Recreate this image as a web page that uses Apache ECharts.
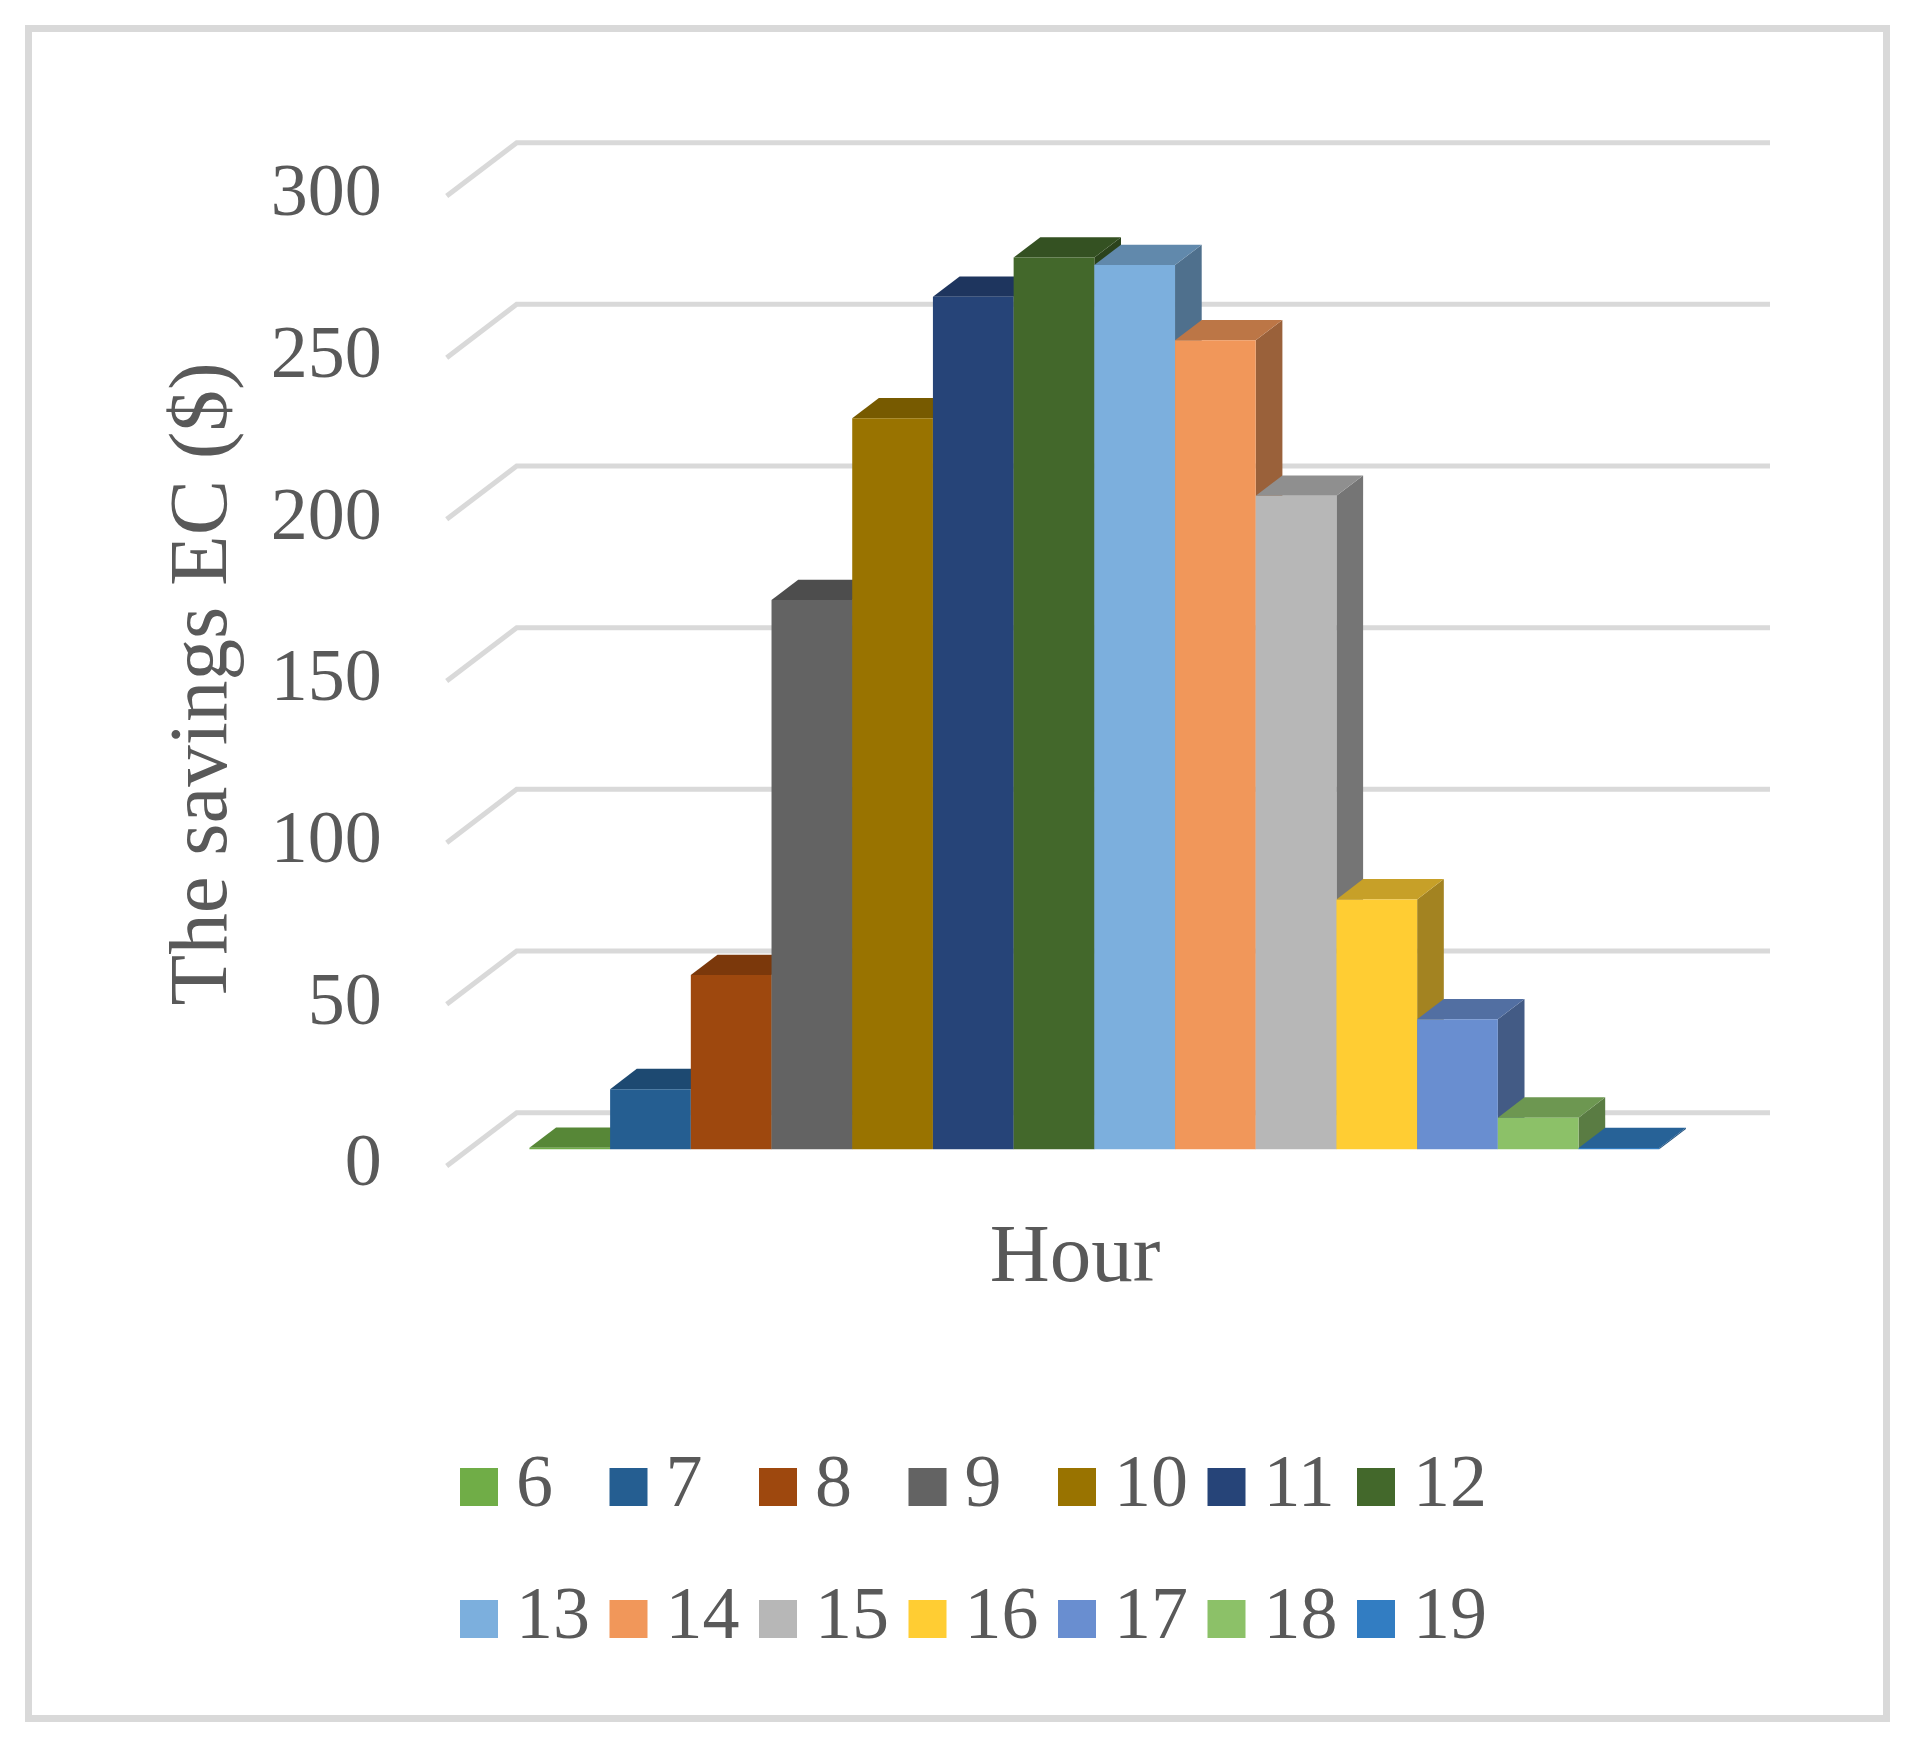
<!DOCTYPE html>
<html>
<head>
<meta charset="utf-8">
<title>The savings EC by hour</title>
<script src="https://cdn.jsdelivr.net/npm/echarts@6.0.0/dist/echarts.min.js"></script>
<style>
  html, body { margin: 0; padding: 0; background: #fff; }
  #chart { width: 1915px; height: 1746px; }
</style>
</head>
<body>
<div id="chart"></div>
<script>
// data
const hours = ['6', '7', '8', '9', '10', '11', '12', '13', '14', '15', '16', '17', '18', '19']
const savings = [0.5, 18.6, 53.9, 169.9, 226.1, 263.7, 275.8, 273.5, 250.2, 202.1, 77.3, 40.2, 9.8, 0.4]
const yTicks = [0, 50, 100, 150, 200, 250, 300]
const colors = ['#70AD47', '#255E91', '#9E480E', '#636363', '#997300', '#264478', '#43682B',
  '#7CAFDD', '#F1975A', '#B7B7B7', '#FFCD33', '#698ED0', '#8CC168', '#327DC2']

const FONT = '"Liberation Serif", "Times New Roman", serif'
const TEXT = '#595959'
const GRID_LINE = '#d9d9d9'
// oblique depth of the floor, in px, and where the bars sit inside it
const DEPTH = [70, -53.3]
const BAR_FRONT = 0.313
const BAR_BACK = 0.694
const SLOT_OFFSET = 0.7535

function shade(hex, k) {
  const n = parseInt(hex.slice(1), 16)
  const r = Math.round(((n >> 16) & 255) * k)
  const g = Math.round(((n >> 8) & 255) * k)
  const b = Math.round((n & 255) * k)
  return 'rgb(' + r + ',' + g + ',' + b + ')'
}

const chart = echarts.init(document.getElementById('chart'))

// back wall + left wall gridlines
function renderGridLine(params, api) {
  const p = api.coord([0, api.value(1)])
  const w = params.coordSys.width
  const bx = p[0] + DEPTH[0]
  const by = p[1] + DEPTH[1]
  return {
    type: 'polyline',
    shape: { points: [[p[0], p[1]], [bx, by], [bx + w, by]] },
    style: { stroke: GRID_LINE, lineWidth: 5, fill: null },
    z2: 0
  }
}

function renderBar(params, api) {
  const slot = api.value(0)
  const val = api.value(1)
  const color = colors[slot]
  const p0 = api.coord([slot + SLOT_OFFSET, 0])
  const p1 = api.coord([slot + SLOT_OFFSET + 1, val])
  const fx = DEPTH[0] * BAR_FRONT
  const fy = DEPTH[1] * BAR_FRONT
  const dx = DEPTH[0] * (BAR_BACK - BAR_FRONT)
  const dy = DEPTH[1] * (BAR_BACK - BAR_FRONT)
  const xl = p0[0] + fx
  const xr = p1[0] + fx
  const yb = p0[1] + fy
  const yt = p1[1] + fy
  return {
    type: 'group',
    children: [
      {
        type: 'polygon',
        shape: { points: [[xr, yt], [xr + dx, yt + dy], [xr + dx, yb + dy], [xr, yb]] },
        style: { fill: shade(color, 0.64) },
        z2: slot * 3 + 1
      },
      {
        type: 'polygon',
        shape: { points: [[xl, yt], [xr, yt], [xr + dx, yt + dy], [xl + dx, yt + dy]] },
        style: { fill: shade(color, 0.78) },
        z2: slot * 3 + 2
      },
      {
        type: 'rect',
        shape: { x: xl, y: yt, width: xr - xl, height: yb - yt },
        style: { fill: color },
        z2: slot * 3 + 3
      }
    ]
  }
}

const series = [{
  type: 'custom',
  name: 'grid',
  silent: true,
  clip: false,
  z: 1,
  renderItem: renderGridLine,
  data: yTicks.map(v => [0, v])
}]
hours.forEach((h, i) => {
  series.push({
    type: 'custom',
    name: h,
    clip: false,
    z: 2,
    itemStyle: { color: colors[i] },
    renderItem: renderBar,
    data: [[i, savings[i]]]
  })
})

const legendBase = {
  left: 460,
  orient: 'horizontal',
  padding: 0,
  itemWidth: 38,
  itemHeight: 38,
  itemGap: 13.5,
  icon: 'rect',
  selectedMode: false,
  textStyle: {
    fontFamily: FONT,
    fontSize: 74,
    color: TEXT,
    width: 80,
    lineHeight: 80,
    padding: [0, 0, 0, 13]
  }
}

const option = {
  backgroundColor: '#fff',
  animation: false,
  grid: {
    left: 446.7,
    top: 196,
    width: 1253.3,
    height: 970,
    containLabel: false,
    outerBoundsMode: 'none'
  },
  xAxis: {
    type: 'value',
    min: 0,
    max: 15.53,
    show: false
  },
  yAxis: {
    type: 'value',
    min: 0,
    max: 300,
    interval: 50,
    axisLine: { show: false },
    axisTick: { show: false },
    splitLine: { show: false },
    axisLabel: {
      margin: 65,
      fontFamily: FONT,
      fontSize: 74,
      color: TEXT
    }
  },
  legend: [
    Object.assign({}, legendBase, { top: 1447, data: hours.slice(0, 7) }),
    Object.assign({}, legendBase, { top: 1579, data: hours.slice(7) })
  ],
  graphic: [
    {
      type: 'rect',
      shape: { x: 28.5, y: 28.5, width: 1858, height: 1690 },
      style: { fill: null, stroke: GRID_LINE, lineWidth: 7 },
      silent: true
    },
    {
      type: 'text',
      x: 204,
      y: 684,
      rotation: Math.PI / 2,
      style: {
        text: 'The savings EC ($)',
        font: '83px ' + FONT,
        fill: TEXT,
        align: 'center',
        verticalAlign: 'middle'
      }
    },
    {
      type: 'text',
      x: 1075,
      y: 1259,
      style: {
        text: 'Hour',
        font: '83px ' + FONT,
        fill: TEXT,
        align: 'center',
        verticalAlign: 'middle'
      }
    }
  ],
  series: series
}

chart.setOption(option)
</script>
</body>
</html>
